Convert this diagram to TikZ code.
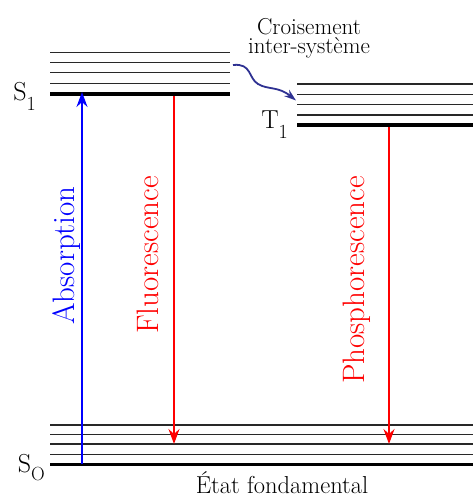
\documentclass[tikz,border=0pt]{standalone}
\usetikzlibrary{arrows.meta}
\definecolor{navyarrow}{RGB}{46,49,146}
\definecolor{thingray}{RGB}{40,40,40}
\begin{document}
\begin{tikzpicture}[x=1pt,y=-1pt,
  thinlevel/.style={draw=thingray,line width=1.3pt},
  thicklevel/.style={draw=black,line width=3.4pt},
  transarrow/.style={line width=1.8pt,-{Stealth[length=15pt,width=11pt,inset=5pt]}},
  biglabel/.style={font=\fontsize{31}{36}\selectfont,rotate=90,anchor=base,inner sep=0pt},
  statelabel/.style={font=\fontsize{26}{32}\selectfont,anchor=base east,inner sep=0pt},
  smalltext/.style={font=\fontsize{23}{18.5}\selectfont,align=center,inner sep=0pt}]
\useasboundingbox (0,0) rectangle (473,498);
% S1 levels
\foreach \yy in {52.7,62.7,72.7,83.3} \draw[thinlevel] (50,\yy) -- (230,\yy);
\draw[thicklevel] (50,94) -- (230,94);
% T1 levels
\foreach \yy in {84,94.3,104.3,115} \draw[thinlevel] (297,\yy) -- (473,\yy);
\draw[thicklevel] (297,125) -- (473,125);
% S0 levels
\foreach \yy in {425,434.3,444,454.3} \draw[thinlevel] (50,\yy) -- (473,\yy);
\draw[thicklevel] (50,464.3) -- (473,464.3);
% arrow endpoints
\coordinate (absA) at (82,464);
\coordinate (absB) at (82,92);
\coordinate (fluA) at (174,96);
\coordinate (fluB) at (174,444);
\coordinate (phoA) at (389,127);
\coordinate (phoB) at (389,444);
\draw[transarrow,color=blue] (absA) -- (absB);
\draw[transarrow,color=red] (fluA) -- (fluB);
\draw[transarrow,color=red] (phoA) -- (phoB);
% intersystem crossing
\coordinate (iscA) at (233,65);
\coordinate (iscB) at (296,100.5);
\draw[color=navyarrow,line width=1.8pt,-{Stealth[length=12pt,width=8pt,inset=4pt]}]
  (iscA) .. controls (252,63) and (248,78) .. (258,84)
  .. controls (268,90) and (278,86) .. (iscB);
% labels
\node[statelabel] (s1) at (36,100) {S\raisebox{-10pt}{\fontsize{20}{24}\selectfont 1}};
\node[statelabel] (t1) at (288,128) {T\raisebox{-10pt}{\fontsize{20}{24}\selectfont 1}};
\node[statelabel] (s0) at (45,472) {S\raisebox{-8pt}{\fontsize{19}{24}\selectfont O}};
% rotated labels
\node[biglabel,text=blue] (abs) at (74,255.5) {Absorption};
\node[biglabel,text=red] (flu) at (158,255) {Fluorescence};
\node[biglabel,text=red] (pho) at (364,280) {Phosphorescence};
\node[smalltext,anchor=base] (isc) at (309,53) {Croisement\\inter-système};
% ground state text
\node[font=\fontsize{24.5}{28}\selectfont,anchor=base,inner sep=0pt] (etat) at (282,493) {État fondamental};
\end{tikzpicture}
\end{document}
